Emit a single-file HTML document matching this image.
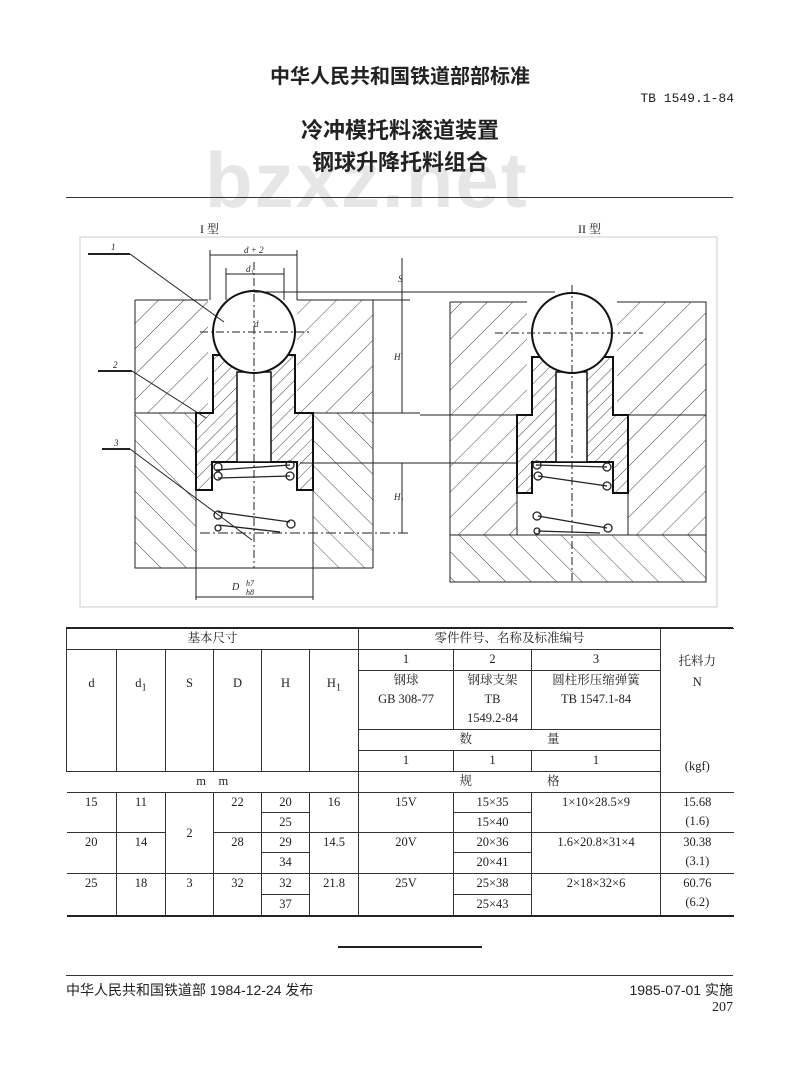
<!DOCTYPE html>
<html><head><meta charset="utf-8"><style>
body{margin:0;background:#fff;}
.pg{position:relative;width:800px;height:1088px;overflow:hidden;font-family:"Liberation Serif","Noto Serif CJK SC",serif;color:#222;}
.a{position:absolute;white-space:nowrap;}
table{position:absolute;left:66px;top:628px;width:667px;border-collapse:collapse;font-size:12.5px;table-layout:fixed;}
td{border:1px solid #333;text-align:center;padding:0;line-height:19px;vertical-align:top;}
</style></head><body><div class="pg">
<div class="a" style="left:0;width:800px;text-align:center;top:60px;font-size:20px;font-weight:bold;font-family:'Liberation Sans','Noto Sans CJK SC',sans-serif;">中华人民共和国铁道部部标准</div>
<div class="a" style="right:66px;top:91px;font-size:13px;font-family:'Liberation Mono',monospace;">TB 1549.1-84</div>
<div class="a" style="left:205px;top:135px;font-size:78px;font-weight:bold;color:#e6e6e6;font-family:'Liberation Sans',sans-serif;letter-spacing:2px;">bzxz.net</div>
<div class="a" style="left:0;width:800px;text-align:center;top:113px;font-size:22px;font-weight:bold;font-family:'Liberation Sans','Noto Sans CJK SC',sans-serif;">冷冲模托料滚道装置</div>
<div class="a" style="left:0;width:800px;text-align:center;top:145px;font-size:22px;font-weight:bold;font-family:'Liberation Sans','Noto Sans CJK SC',sans-serif;">钢球升降托料组合</div>
<div class="a" style="left:66px;top:197px;width:667px;height:1px;background:#333;"></div>
<div class="a" style="left:200px;top:220px;font-size:12px;">I 型</div>
<div class="a" style="left:578px;top:220px;font-size:12px;">II 型</div>

<svg class="a" style="left:0;top:0" width="800" height="620" viewBox="0 0 800 620">
<defs>
<pattern id="h1" width="18" height="18" patternUnits="userSpaceOnUse" patternTransform="rotate(45)"><line x1="0" y1="0" x2="0" y2="18" stroke="#444" stroke-width="1"/></pattern>
<pattern id="h2" width="18" height="18" patternUnits="userSpaceOnUse" patternTransform="rotate(-45)"><line x1="0" y1="0" x2="0" y2="18" stroke="#444" stroke-width="1"/></pattern>
<pattern id="h3" width="9" height="9" patternUnits="userSpaceOnUse" patternTransform="rotate(45)"><line x1="0" y1="0" x2="0" y2="9" stroke="#444" stroke-width="1"/></pattern>
</defs>
<rect x="80" y="237" width="637" height="370" fill="none" stroke="#ccc"/>
<g stroke="#222" fill="none">
<rect x="135" y="300" width="238" height="113" fill="url(#h1)" stroke="none"/>
<rect x="135" y="413" width="238" height="155" fill="url(#h2)" stroke="none"/>
<rect x="208" y="300" width="89" height="113" fill="#fff" stroke="none"/>
<rect x="196" y="413" width="117" height="155" fill="#fff" stroke="none"/>
<path d="M213 413V355H295V413H313V490H297V462H212V490H196V413Z" fill="url(#h3)" stroke="#111" stroke-width="2"/>
<rect x="237" y="372" width="34" height="90" fill="#fff" stroke="#111" stroke-width="1.5"/>
<circle cx="254" cy="332" r="41" fill="#fff" stroke="#111" stroke-width="2"/>
<path d="M135 300H208M297 300H373V568M135 300V568H373" />
<path d="M135 413H196M313 413H420" />
<line x1="196" y1="490" x2="196" y2="600"/><line x1="313" y1="490" x2="313" y2="600"/>
<line x1="254" y1="262" x2="254" y2="568" stroke-dasharray="8 3 2 3"/>
<line x1="200" y1="332" x2="310" y2="332" stroke-dasharray="8 3 2 3"/>
<line x1="210" y1="250" x2="210" y2="300"/><line x1="297" y1="250" x2="297" y2="300"/>
<line x1="210" y1="255" x2="297" y2="255"/><line x1="226" y1="274" x2="284" y2="274"/>
<line x1="226" y1="268" x2="226" y2="300"/><line x1="284" y1="268" x2="284" y2="300"/>
<line x1="254" y1="292" x2="555" y2="292"/><line x1="373" y1="300" x2="410" y2="300"/>
<line x1="402" y1="258" x2="402" y2="413"/><line x1="402" y1="463" x2="402" y2="533"/>
<line x1="300" y1="463" x2="520" y2="463"/><line x1="200" y1="533" x2="410" y2="533" stroke-dasharray="10 3 2 3"/>
<line x1="196" y1="597" x2="313" y2="597"/>
<line x1="88" y1="254" x2="130" y2="254" stroke-width="2"/><line x1="130" y1="254" x2="224" y2="322"/>
<line x1="98" y1="371" x2="132" y2="371" stroke-width="2"/><line x1="132" y1="371" x2="206" y2="418"/>
<line x1="102" y1="449" x2="130" y2="449" stroke-width="2"/><line x1="130" y1="449" x2="252" y2="540"/>
<g stroke-width="1.3">
<line x1="216" y1="470" x2="290" y2="465"/><line x1="218" y1="478" x2="290" y2="476"/>
<line x1="218" y1="512" x2="290" y2="522"/><line x1="218" y1="525" x2="280" y2="532"/>
<circle cx="218" cy="467" r="4"/><circle cx="218" cy="476" r="4"/><circle cx="290" cy="465" r="4"/><circle cx="290" cy="476" r="4"/>
<circle cx="218" cy="515" r="4"/><circle cx="291" cy="524" r="4"/><circle cx="218" cy="528" r="3"/>
</g>
<rect x="450" y="302" width="256" height="113" fill="url(#h1)" stroke="none"/>
<rect x="450" y="415" width="256" height="120" fill="url(#h1)" stroke="none"/>
<rect x="450" y="535" width="256" height="47" fill="url(#h2)" stroke="none"/>
<rect x="527" y="302" width="90" height="113" fill="#fff" stroke="none"/>
<rect x="517" y="415" width="111" height="120" fill="#fff" stroke="none"/>
<path d="M532 415V357H613V415H628V493H613V462H532V493H517V415Z" fill="url(#h3)" stroke="#111" stroke-width="2"/>
<rect x="556" y="372" width="31" height="90" fill="#fff" stroke="#111" stroke-width="1.5"/>
<circle cx="572" cy="333" r="40" fill="#fff" stroke="#111" stroke-width="2"/>
<path d="M450 302H527M617 302H706V582H450V302M450 415H517M628 415H706M450 535H706"/>
<line x1="420" y1="415" x2="450" y2="415"/>
<line x1="572" y1="285" x2="572" y2="582" stroke-dasharray="8 3 2 3"/>
<line x1="495" y1="333" x2="643" y2="333" stroke-dasharray="8 3 2 3"/>
<line x1="517" y1="493" x2="517" y2="535"/><line x1="628" y1="493" x2="628" y2="535"/>
<g stroke-width="1.3">
<line x1="536" y1="465" x2="607" y2="467"/><line x1="538" y1="476" x2="607" y2="486"/>
<line x1="538" y1="516" x2="607" y2="528"/><line x1="538" y1="531" x2="600" y2="533"/>
<circle cx="537" cy="465" r="4"/><circle cx="538" cy="476" r="4"/><circle cx="607" cy="467" r="4"/><circle cx="607" cy="486" r="4"/>
<circle cx="537" cy="516" r="4"/><circle cx="608" cy="528" r="4"/><circle cx="537" cy="531" r="3"/>
</g>
</g>
<g font-size="9" font-style="italic" fill="#222" font-family="Liberation Serif,serif">
<text x="111" y="250">1</text><text x="113" y="368">2</text><text x="114" y="446">3</text>
<text x="244" y="253">d + 2</text><text x="246" y="272">d₁</text><text x="254" y="327">d</text>
<text x="398" y="282">S</text><text x="394" y="360">H</text><text x="394" y="500">H₁</text>
<text x="232" y="590" font-size="10">D</text><text x="246" y="586" font-size="8">h7</text><text x="246" y="595" font-size="8">h8</text>
</g>
</svg>

<table>
<colgroup><col style="width:50px"><col style="width:49px"><col style="width:48px"><col style="width:48px"><col style="width:48px"><col style="width:49px"><col style="width:95px"><col style="width:78px"><col style="width:129px"><col style="width:73px"></colgroup>
<tr style="height:21px"><td colspan="6">基本尺寸</td><td colspan="3">零件件号、名称及标准编号</td><td rowspan="6" style="vertical-align:top;padding-top:22px;line-height:21px;border-right:none">托料力<br>N<br><br><br><br>(kgf)</td></tr>
<tr style="height:21px"><td rowspan="4" style="padding-top:24px">d</td><td rowspan="4" style="padding-top:24px">d<sub>1</sub></td><td rowspan="4" style="padding-top:24px">S</td><td rowspan="4" style="padding-top:24px">D</td><td rowspan="4" style="padding-top:24px">H</td><td rowspan="4" style="padding-top:24px">H<sub>1</sub></td><td>1</td><td>2</td><td>3</td></tr>
<tr style="height:59px"><td>钢球<br>GB 308-77</td><td>钢球支架<br>TB<br>1549.2-84</td><td>圆柱形压缩弹簧<br>TB 1547.1-84</td></tr>
<tr style="height:21px"><td colspan="3">数　　　　　　量</td></tr>
<tr style="height:21px"><td>1</td><td>1</td><td>1</td></tr>
<tr style="height:21px"><td colspan="6" style="border-left:none">m　m</td><td colspan="3">规　　　　　　格</td></tr>
<tr style="height:20px"><td rowspan="2" style="border-left:none">15</td><td rowspan="2">11</td><td rowspan="4" style="vertical-align:middle">2</td><td rowspan="2">22</td><td>20</td><td rowspan="2">16</td><td rowspan="2">15V</td><td>15×35</td><td rowspan="2">1×10×28.5×9</td><td rowspan="2" style="border-right:none">15.68<br>(1.6)</td></tr>
<tr style="height:20px"><td>25</td><td>15×40</td></tr>
<tr style="height:20px"><td rowspan="2" style="border-left:none">20</td><td rowspan="2">14</td><td rowspan="2">28</td><td>29</td><td rowspan="2">14.5</td><td rowspan="2">20V</td><td>20×36</td><td rowspan="2">1.6×20.8×31×4</td><td rowspan="2" style="border-right:none">30.38<br>(3.1)</td></tr>
<tr style="height:21px"><td>34</td><td>20×41</td></tr>
<tr style="height:21px"><td rowspan="2" style="border-left:none;border-bottom:2px solid #222">25</td><td rowspan="2" style="border-bottom:2px solid #222">18</td><td rowspan="2" style="border-bottom:2px solid #222">3</td><td rowspan="2" style="border-bottom:2px solid #222">32</td><td>32</td><td rowspan="2" style="border-bottom:2px solid #222">21.8</td><td rowspan="2" style="border-bottom:2px solid #222">25V</td><td>25×38</td><td rowspan="2" style="border-bottom:2px solid #222">2×18×32×6</td><td rowspan="2" style="border-right:none;border-bottom:2px solid #222">60.76<br>(6.2)</td></tr>
<tr style="height:21px"><td style="border-bottom:2px solid #222">37</td><td style="border-bottom:2px solid #222">25×43</td></tr>
</table>
<div class="a" style="left:66px;top:627px;width:667px;height:2px;background:#222;"></div>

<div class="a" style="left:338px;top:946px;width:144px;height:2px;background:#222;"></div>
<div class="a" style="left:66px;top:975px;width:667px;height:1px;background:#333;"></div>
<div class="a" style="left:66px;top:980px;font-size:14px;font-family:'Liberation Sans','Noto Sans CJK SC',sans-serif;">中华人民共和国铁道部 1984-12-24 发布</div>
<div class="a" style="right:67px;top:980px;font-size:14px;font-family:'Liberation Sans','Noto Sans CJK SC',sans-serif;">1985-07-01 实施</div>
<div class="a" style="right:67px;top:1000px;font-size:14px;">207</div>
</div></body></html>
